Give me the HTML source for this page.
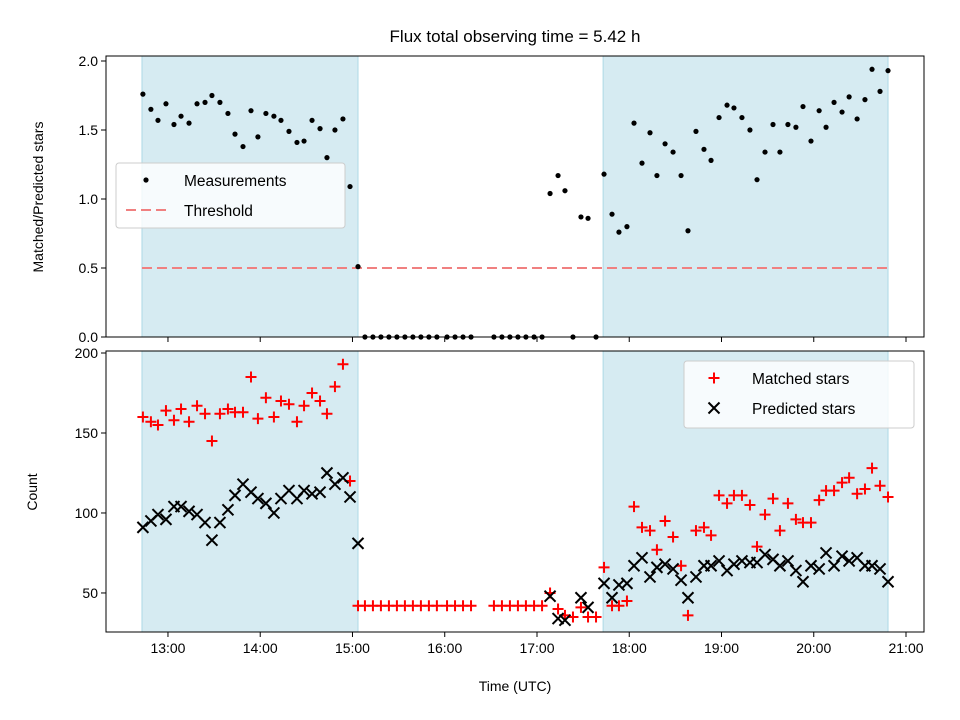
<!DOCTYPE html>
<html><head><meta charset="utf-8"><style>
html,body{margin:0;padding:0;background:#fff;}
svg{display:block;font-family:"Liberation Sans","DejaVu Sans",sans-serif;}
</style></head><body>
<svg id="chart" width="960" height="720" viewBox="0 0 960 720">
<text x="515" y="42" font-size="17" text-anchor="middle" fill="#000">Flux total observing time = 5.42 h</text>
<g id="topPanel"></g>
<g id="botPanel"></g>
<text x="515" y="691" font-size="14" text-anchor="middle">Time (UTC)</text>
<text transform="translate(43,197) rotate(-90)" font-size="14" text-anchor="middle">Matched/Predicted stars</text>
<text transform="translate(37,492) rotate(-90)" font-size="14" text-anchor="middle">Count</text>
</svg>
<script>
// time in minutes since 00:00 UTC
const times = [763.7,768.9,773.5,778.7,783.9,788.5,793.7,798.9,804.1,808.6,813.8,819.0,823.6,828.8,834.0,838.5,843.7,848.9,853.5,858.7,863.9,868.5,873.7,878.9,883.4,888.6,893.8,898.4,903.6,
908.1,913.3,918.5,923.7,928.9,934.1,939.3,944.5,949.7,954.9,961.5,966.7,971.9,977.1,992.0,997.2,1002.4,1007.6,1012.8,1018.1,1023.3,
1028.5,1033.7,1038.2,1043.4,1048.6,1053.2,1058.4,1063.6,1068.8,1073.3,1078.5,1083.1,1088.3,1093.5,1098.0,1103.3,1108.5,1113.7,1118.2,1123.4,1128.6,1133.2,1138.4,1143.6,1148.1,1153.3,1158.5,1163.1,1168.3,1173.5,1178.0,1183.2,1188.4,1193.0,1198.2,1203.5,1208.0,1213.2,1218.4,1223.0,1228.2,1233.3,1237.9,1243.1,1248.3];
const ratio = [1.76,1.65,1.57,1.69,1.54,1.60,1.55,1.69,1.70,1.75,1.70,1.62,1.47,1.38,1.64,1.45,1.62,1.60,1.57,1.49,1.41,1.42,1.57,1.51,1.30,1.50,1.58,1.09,0.51,
0,0,0,0,0,0,0,0,0,0,0,0,0,0,0,0,0,0,0,0,0,
1.04,1.17,1.06,0,0.87,0.86,0,1.18,0.89,0.76,0.80,1.55,1.26,1.48,1.17,1.40,1.34,1.17,0.77,1.49,1.36,1.28,1.59,1.68,1.66,1.59,1.50,1.14,1.34,1.54,1.34,1.54,1.52,1.67,1.42,1.64,1.52,1.70,1.63,1.74,1.58,1.72,1.94,1.78,1.93];
const matched = [160,157,155,164,158,165,157,167,162,145,162,165,163,163,185,159,172,160,170,168,157,167,175,170,162,179,193,120,42,
42,42,42,42,42,42,42,42,42,42,42,42,42,42,42,42,42,42,42,42,42,
50,40,36,35,41,35,35,66,42,42,45,104,91,89,77,95,85,67,36,89,91,86,111,106,111,111,105,79,99,109,89,106,96,94,94,108,114,114,119,122,112,115,128,117,110];
const predicted = [91,95,99,96,104,104,101,99,94,83,94,102,111,118,113,109,106,100,109,114,109,114,112,113,125,118,122,110,81,
null,null,null,null,null,null,null,null,null,null,null,null,null,null,null,null,null,null,null,null,null,
48,34,33,null,47,41,null,56,47,55,56,67,72,60,66,68,65,58,47,60,67,67,70,64,68,70,69,69,74,71,67,70,64,57,67,65,75,67,73,70,72,67,67,65,57];
const spans = [[763.1,903.6],[1063.0,1248.3]];
const threshold = 0.5;
const threshRange = [763.1,1248.3];
const xTicks = [780,840,900,960,1020,1080,1140,1200,1260];
const xTickLabels = ["13:00","14:00","15:00","16:00","17:00","18:00","19:00","20:00","21:00"];
const topTicks = [0,0.5,1.0,1.5,2.0];
const topTickLabels = ["0.0","0.5","1.0","1.5","2.0"];
const botTicks = [50,100,150,200];
const botTickLabels = ["50","100","150","200"];

const NS="http://www.w3.org/2000/svg";
const L=106,R=924;
const xMin=739.7,xMax=1271.7;
const sx=t=>L+(t-xMin)/(xMax-xMin)*(R-L);
const T={y0:56,y1:337,min:0,max:(337-56)/138};
const B={y0:351,y1:632,min:25.6,max:201.25};
const syT=v=>T.y1-(v-T.min)/(T.max-T.min)*(T.y1-T.y0);
const syB=v=>B.y1-(v-B.min)/(B.max-B.min)*(B.y1-B.y0);
function mk(p,tag,attrs){const e=document.createElementNS(NS,tag);for(const k in attrs)e.setAttribute(k,attrs[k]);p.appendChild(e);return e;}
const topG=document.getElementById('topPanel'),botG=document.getElementById('botPanel');

function panel(g,P,sy,ticks,labels,showX,nm){
  spans.forEach((s,i)=>{
    const r=mk(g,'rect',{x:sx(s[0]),y:P.y0,width:sx(s[1])-sx(s[0]),height:P.y1-P.y0,fill:'#add8e6','fill-opacity':0.5,stroke:'#add8e6','stroke-width':1});
    
    
  });
  ticks.forEach((v,i)=>{
    const y=sy(v);
    const l=mk(g,'line',{x1:L-5,x2:L,y1:y,y2:y,stroke:'#000','stroke-width':1});
    
    
    const t=mk(g,'text',{x:L-8,y:y+5,'font-size':14,'text-anchor':'end'});
    t.textContent=labels[i];
    
    
  });
  xTicks.forEach((v,i)=>{
    const x=sx(v);
    const l=mk(g,'line',{x1:x,x2:x,y1:P.y1,y2:P.y1+5,stroke:'#000','stroke-width':1});
    
    
    if(showX){
      const t=mk(g,'text',{x:x,y:P.y1+21,'font-size':14,'text-anchor':'middle'});
      t.textContent=xTickLabels[i];
      
      
    }
  });
}
panel(topG,T,syT,topTicks,topTickLabels,false,'top');
panel(botG,B,syB,botTicks,botTickLabels,true,'bottom');

const th=mk(topG,'line',{x1:sx(threshRange[0]),x2:sx(threshRange[1]),y1:syT(threshold),y2:syT(threshold),stroke:'#f08080','stroke-width':2,'stroke-dasharray':'10,5'});



times.forEach((t,i)=>{
  const c=mk(topG,'circle',{cx:sx(t),cy:syT(ratio[i]),r:2.6,fill:'#000'});
  
  
});
function plus(g,x,y,s,col){return mk(g,'path',{d:`M${x-s} ${y}H${x+s}M${x} ${y-s}V${y+s}`,stroke:col,'stroke-width':2,fill:'none'});}
function cross(g,x,y,s,col){return mk(g,'path',{d:`M${x-s} ${y-s}L${x+s} ${y+s}M${x-s} ${y+s}L${x+s} ${y-s}`,stroke:col,'stroke-width':2,fill:'none'});}
times.forEach((t,i)=>{
  const p=plus(botG,sx(t),syB(matched[i]),5.5,'#ff0000');
  
  
});
times.forEach((t,i)=>{
  if(predicted[i]===null)return;
  const p=cross(botG,sx(t),syB(predicted[i]),5.5,'#000');
  
  
});

[[topG,T],[botG,B]].forEach(([g,P],i)=>{
  const r=mk(g,'rect',{x:L,y:P.y0,width:R-L,height:P.y1-P.y0,fill:'none',stroke:'#000','stroke-width':1});
  
  
});

function legend(g,x,y,w,h,items,nm){
  const lg=mk(g,'g',{});
  
  
  mk(lg,'rect',{x:x,y:y,width:w,height:h,rx:3,fill:'#fff','fill-opacity':0.8,stroke:'#ccc','stroke-width':1});
  items.forEach((it,i)=>{
    const cy=y+17+i*30;
    const e=mk(lg,'g',{});
    
    
    it.draw(e,x+30,cy);
    const t=mk(e,'text',{x:x+68,y:cy+6,'font-size':15.5});
    t.textContent=it.label;
  });
}
legend(topG,116,163,229,65,[
  {key:'measurements',label:'Measurements',draw:(e,x,y)=>mk(e,'circle',{cx:x,cy:y,r:2.6,fill:'#000'})},
  {key:'threshold',label:'Threshold',draw:(e,x,y)=>mk(e,'line',{x1:x-20,x2:x+20,y1:y,y2:y,stroke:'#f08080','stroke-width':2,'stroke-dasharray':'10,5'})}
],'top-legend');
legend(botG,684,361,230,67,[
  {key:'matched',label:'Matched stars',draw:(e,x,y)=>plus(e,x,y,5.5,'#ff0000')},
  {key:'predicted',label:'Predicted stars',draw:(e,x,y)=>cross(e,x,y,5.5,'#000')}
],'bottom-legend');
</script>
</body></html>
